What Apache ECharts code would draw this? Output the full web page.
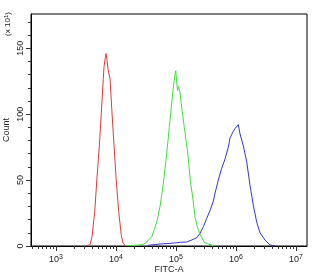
<!DOCTYPE html>
<html>
<head>
<meta charset="utf-8">
<script src="https://cdn.jsdelivr.net/npm/echarts@6/dist/echarts.min.js"></script>
<style>
  html, body { margin: 0; padding: 0; background: #fff; }
  #chart { width: 315px; height: 275px; }
</style>
</head>
<body>
<div id="chart"></div>
<script>
// x values are log10(FITC-A), y values are counts (x 10)
const redX = [3.50, 3.533, 3.567, 3.600, 3.645, 3.683, 3.722, 3.755, 3.788, 3.800, 3.810, 3.822, 3.833, 3.850, 3.867, 3.900, 3.933, 3.967, 4.000, 4.045, 4.088, 4.117, 4.167];
const redY = [0, 0, 1, 7, 26, 52, 76, 101, 127, 136, 137, 143, 146, 141, 134, 127, 101, 76, 52, 26, 8, 2, 0];

const greenX = [4.150, 4.317, 4.433, 4.483, 4.533, 4.595, 4.642, 4.688, 4.733, 4.767, 4.800, 4.833, 4.862, 4.888, 4.917, 4.945, 4.967, 4.983, 4.995, 5.008, 5.025, 5.042, 5.055, 5.067, 5.100, 5.138, 5.167, 5.192, 5.217, 5.242, 5.275, 5.317, 5.358, 5.400, 5.467, 5.533, 5.650];
const greenY = [0, 0.5, 1, 2, 4, 7, 13, 20, 30, 40, 52, 65, 78, 90, 103, 116, 125, 130, 133, 126, 118, 121, 119, 116, 103, 90, 80, 72, 60, 48, 38, 22, 14, 9, 3, 1.5, 0];

const blueX = [4.533, 4.733, 4.900, 5.017, 5.067, 5.178, 5.233, 5.345, 5.400, 5.455, 5.512, 5.567, 5.622, 5.650, 5.705, 5.762, 5.817, 5.872, 5.900, 5.955, 5.983, 6.012, 6.038, 6.067, 6.122, 6.178, 6.233, 6.288, 6.345, 6.400, 6.483, 6.567, 6.650];
const blueY = [0.5, 1.5, 2, 2.5, 2.8, 3, 4, 6.3, 9.6, 14.6, 21, 27, 34, 40, 50, 59, 66, 75, 82, 87, 89, 88, 92, 85, 76, 64, 46, 31, 18, 10, 4.5, 0.8, 0];

const decades = [3, 4, 5, 6, 7];
const minorMult = [2, 3, 4, 5, 6, 7, 8, 9];
const yMajor = [0, 50, 100, 150];
const yMinor = [10, 20, 30, 40, 60, 70, 80, 90, 110, 120, 130, 140, 160, 170];

const xMin = 2.583, xMax = 7.183;
const yMax = 176;

// minor log ticks
const xMinor = [];
[2, 3, 4, 5, 6, 7].forEach(d => {
  minorMult.forEach(k => {
    const v = d + Math.log10(k);
    if (v > xMin && v < xMax) xMinor.push(v);
  });
});

const zip = (xs, ys) => xs.map((x, i) => [x, ys[i]]);

const chart = echarts.init(document.getElementById('chart'));
const txt = '#222';
const font = 'Liberation Sans, Arial, sans-serif';

chart.setOption({
  animation: false,
  grid: {
    left: 31, top: 14, right: 8, bottom: 29,
    outerBoundsMode: 'none', containLabel: false,
    show: true, borderColor: '#000', borderWidth: 1
  },
  xAxis: [{
    type: 'value', min: xMin, max: xMax, position: 'bottom',
    name: 'FITC-A', nameLocation: 'middle', nameGap: 19, nameMoveOverlap: false,
    nameTextStyle: { color: txt, fontSize: 9, fontFamily: font },
    axisLine: { lineStyle: { color: '#000', width: 1 } },
    axisTick: { show: true, length: 5, customValues: decades, lineStyle: { color: '#333' } },
    axisLabel: {
      customValues: decades, margin: 8, color: txt, fontSize: 9, fontFamily: font,
      formatter: v => '10{s|' + v + '}',
      rich: { s: { fontSize: 7, verticalAlign: 'top', padding: [0, 0, 4, 0], color: txt, fontFamily: font } }
    },
    splitLine: { show: false }
  }, {
    type: 'value', min: xMin, max: xMax, position: 'bottom',
    axisLine: { show: false },
    axisTick: { show: true, length: 3, customValues: xMinor, lineStyle: { color: '#333' } },
    axisLabel: { show: false },
    splitLine: { show: false }
  }],
  yAxis: [{
    type: 'value', min: 0, max: yMax, position: 'left',
    name: 'Count', nameLocation: 'middle', nameGap: 20, nameRotate: 90, nameMoveOverlap: false,
    nameTextStyle: { color: txt, fontSize: 9, fontFamily: font },
    axisLine: { show: true, lineStyle: { color: '#000', width: 1 } },
    axisTick: { show: true, length: 5, customValues: yMajor, lineStyle: { color: '#333' } },
    axisLabel: { customValues: yMajor, rotate: 90, margin: 6, color: txt, fontSize: 9, fontFamily: font },
    splitLine: { show: false }
  }, {
    type: 'value', min: 0, max: yMax, position: 'left',
    axisLine: { show: false },
    axisTick: { show: true, length: 3, customValues: yMinor, lineStyle: { color: '#333' } },
    axisLabel: { show: false },
    splitLine: { show: false }
  }],
  graphic: [{
    type: 'text', x: 8, y: 24, rotation: Math.PI / 2,
    style: {
      text: '(x 10{s|1})', fill: txt, fontSize: 8, fontFamily: font,
      align: 'center', verticalAlign: 'middle',
      rich: { s: { fontSize: 6, verticalAlign: 'top', padding: [0, 0, 4, 0], fill: txt } }
    }
  }],
  series: [
    { type: 'line', data: zip(redX, redY), showSymbol: false, lineStyle: { color: '#e23a3a', width: 1 }, z: 3 },
    { type: 'line', data: zip(greenX, greenY), showSymbol: false, lineStyle: { color: '#3ede3e', width: 1 }, z: 3 },
    { type: 'line', data: zip(blueX, blueY), showSymbol: false, lineStyle: { color: '#3535c8', width: 1 }, z: 2 }
  ]
});
</script>
</body>
</html>
